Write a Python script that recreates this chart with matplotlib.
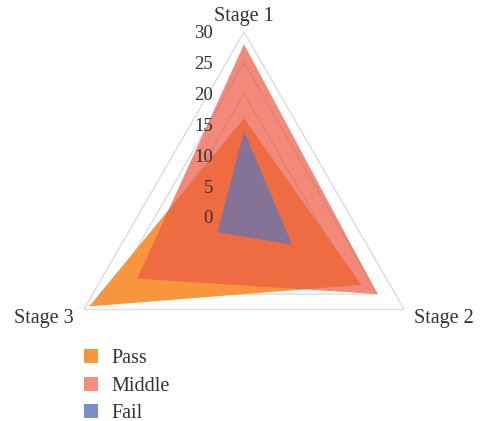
import matplotlib
matplotlib.use('Agg')
import matplotlib.pyplot as plt
from matplotlib.patches import Patch
import numpy as np

# Dados do gráfico radar
stages = ['Stage 1', 'Stage 2', 'Stage 3']
ticks = [0, 5, 10, 15, 20, 25, 30]
series_names = ['Pass', 'Middle', 'Fail']
pass_values = [16, 22, 29]
middle_values = [28, 25, 20]
fail_values = [14, 9, 5]

# Cores (preenchimento com transparência e cor mostrada na legenda)
fill_colors = {
  'Pass': ((247/255, 150/255, 60/255), 1.0),
  'Middle': ((237/255, 92/255, 71/255), 0.72),
  'Fail': ((104/255, 118/255, 176/255), 0.78),
}
legend_colors = ['#F7963C', '#F48F7F', '#7A8FC9']
text_color = '#333333'
grid_color = '#DCDCDC'

plt.rcParams['font.family'] = ['Liberation Serif', 'DejaVu Serif']

fig = plt.figure(figsize=(4.8, 4.21), dpi=100)
ax = fig.add_axes([59/480, 19/421, 370/480, 370/421], projection='polar')
ax.set_theta_offset(np.pi / 2)
ax.set_theta_direction(-1)
ax.set_ylim(0, 30)
ax.grid(False)
ax.spines['polar'].set_visible(False)
ax.set_xticks([])
ax.set_yticks([])
ax.patch.set_alpha(0)

angles = np.linspace(0, 2 * np.pi, len(stages), endpoint=False)
closed = np.append(angles, angles[0])

# Grade triangular a cada 5 unidades
for t in ticks[1:]:
  ax.plot(closed, [t] * len(closed), color=grid_color, lw=1.0, zorder=1)

# Séries (Pass em baixo, Fail em cima)
for name, vals in zip(series_names, [pass_values, middle_values, fail_values]):
  c, a = fill_colors[name]
  ax.fill(closed, np.append(vals, vals[0]), color=c, alpha=a, lw=0, zorder=2)

# Rótulos do eixo radial
for t in ticks:
  ax.annotate(str(t), xy=(0, t), xytext=(-31, -2), textcoords='offset pixels',
              ha='right', va='center', fontsize=13.5, color=text_color)

# Rótulos das etapas
offsets = [(0, 6, 'center', 'bottom'), (10, -9, 'left', 'center'), (-10, -9, 'right', 'center')]
for ang, label, (dx, dy, ha, va) in zip(angles, stages, offsets):
  ax.annotate(label, xy=(ang, 30), xytext=(dx, dy), textcoords='offset pixels',
              ha=ha, va=va, fontsize=14.5, color=text_color)

handles = [Patch(facecolor=c, edgecolor='none') for c in legend_colors]
fig.legend(handles, series_names, loc='upper left', bbox_to_anchor=(66/480, 1 - 331/421),
           frameon=False, fontsize=14.5, handlelength=0.7, handleheight=0.7,
           handletextpad=0.65, labelspacing=0.42, labelcolor=text_color)

fig.savefig('out.png', dpi=100)
